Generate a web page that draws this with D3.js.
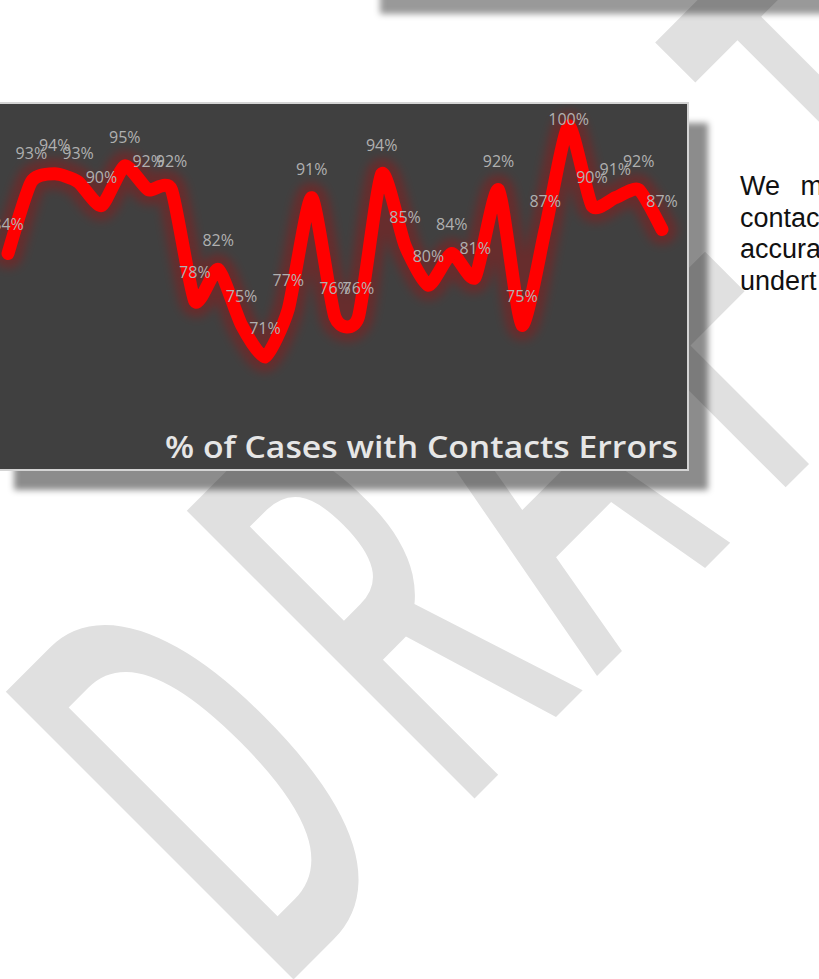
<!DOCTYPE html>
<html>
<head>
<meta charset="utf-8">
<script src="https://cdn.jsdelivr.net/npm/d3@7"></script>
<style>
  html, body { margin: 0; padding: 0; background: #ffffff; }
  svg { display: block; }
</style>
</head>
<body>
<script>
// Share of cases with contact errors, one value per review period
const periods = d3.range(29);
const errorRates = [84, 93, 94, 93, 90, 95, 92, 92, 78, 82, 75, 71, 77, 91, 76, 76, 94, 85, 80, 84, 81, 92, 75, 87, 100, 90, 91, 92, 87];
const chartTitle = "% of Cases with Contacts Errors";
const noteLines = ["We m", "contac", "accura", "undert"];
const watermarkLetters = ["D", "R", "A", "F", "T"];
const watermarkOffsets = [-26, 230, 430, 670, 915];

const W = 819, H = 979;
const svg = d3.select("body").append("svg").attr("width", W).attr("height", H);
const defs = svg.append("defs");

const soft = defs.append("filter").attr("id", "soft").attr("x", "-20%").attr("y", "-20%").attr("width", "140%").attr("height", "140%");
soft.append("feGaussianBlur").attr("stdDeviation", 3);

const glow = defs.append("filter").attr("id", "glow").attr("x", "-10%").attr("y", "-30%").attr("width", "120%").attr("height", "160%");
glow.append("feGaussianBlur").attr("stdDeviation", 5);

svg.append("rect").attr("width", W).attr("height", H).attr("fill", "#ffffff");

// Watermark, set diagonally across the page
const wm = svg.append("g")
  .attr("transform", "translate(293,980) rotate(-45) scale(0.5,1)")
  .attr("fill", "#e0e0e0")
  .style("font-family", "'Open Sans', sans-serif")
  .style("font-weight", 600)
  .style("font-size", "570px");
wm.selectAll("text").data(watermarkLetters).join("text")
  .attr("x", (d, i) => watermarkOffsets[i] / 0.5)
  .attr("y", 0)
  .text(d => d);

// Shadow of the block above the page top
svg.append("rect").attr("x", 380).attr("y", -60).attr("width", 480).attr("height", 74)
  .attr("fill", "#000").attr("fill-opacity", 0.4).attr("filter", "url(#soft)");

// Chart panel
const panel = { x: -6, y: 103, w: 694, h: 367 };
svg.append("rect").attr("x", panel.x + 20).attr("y", panel.y + 20).attr("width", panel.w).attr("height", panel.h)
  .attr("fill", "#000").attr("fill-opacity", 0.45).attr("filter", "url(#soft)");
svg.append("rect").attr("x", panel.x).attr("y", panel.y).attr("width", panel.w).attr("height", panel.h)
  .attr("fill", "#404040").attr("stroke", "#d4d4d4").attr("stroke-width", 2);

const x = d3.scaleLinear().domain([0, 28]).range([8, 662]);
const y = d3.scaleLinear().domain([70, 100]).range([365, 126]);

const line = d3.line()
  .x((d, i) => x(periods[i]))
  .y(d => y(d))
  .curve(d3.curveCardinal.tension(0.4));

const plot = svg.append("g");
plot.append("path").datum(errorRates).attr("d", line)
  .attr("fill", "none").attr("stroke", "#c00000").attr("stroke-opacity", 0.3)
  .attr("stroke-width", 30).attr("stroke-linejoin", "round").attr("stroke-linecap", "round")
  .attr("filter", "url(#glow)");
plot.append("path").datum(errorRates).attr("d", line)
  .attr("fill", "none").attr("stroke", "#ff0000")
  .attr("stroke-width", 13).attr("stroke-linejoin", "round").attr("stroke-linecap", "round");

plot.selectAll("text.lbl").data(errorRates).join("text")
  .attr("class", "lbl")
  .attr("x", (d, i) => x(periods[i]))
  .attr("y", d => Math.max(125, y(d) - 23))
  .attr("text-anchor", "middle")
  .attr("fill", "#b0b0b0")
  .style("font-family", "'Open Sans', sans-serif")
  .style("font-size", "16px")
  .text(d => d + "%");

svg.append("text")
  .attr("x", 678).attr("y", 458)
  .attr("text-anchor", "end")
  .attr("fill", "#e6e6e6")
  .attr("textLength", 513).attr("lengthAdjust", "spacingAndGlyphs")
  .style("font-family", "'Open Sans', sans-serif")
  .style("font-weight", 600)
  .style("font-size", "31px")
  .text(chartTitle);

// Side note text
svg.append("g").selectAll("text").data(noteLines).join("text")
  .attr("x", 740)
  .attr("y", (d, i) => 195 + i * 31.7)
  .attr("fill", "#111")
  .style("font-family", "'Liberation Sans', Arial, sans-serif")
  .style("font-size", "27px")
  .style("word-spacing", "13px")
  .text(d => d);
</script>
</body>
</html>
